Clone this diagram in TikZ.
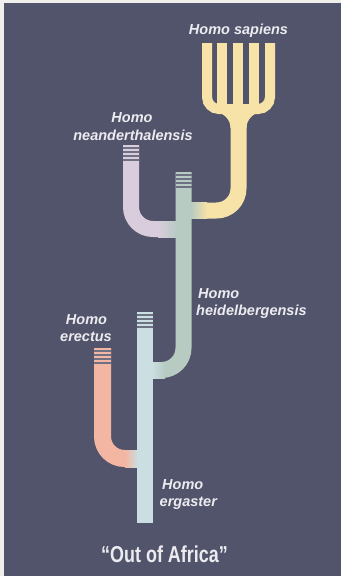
\documentclass[tikz,border=0pt]{standalone}
\usepackage{fontspec}
\setmainfont{Liberation Sans}
\definecolor{framec}{HTML}{F0EFEB}
\definecolor{bgc}{HTML}{52546C}
\definecolor{yel}{HTML}{F7E3A8}
\definecolor{lav}{HTML}{D9CCDD}
\definecolor{grn}{HTML}{B7CBC2}
\definecolor{blu}{HTML}{CBDFE2}
\definecolor{sal}{HTML}{F3B6A3}
\definecolor{labelc}{HTML}{ECECF0}
\definecolor{stripec}{HTML}{6E7084}
\begin{document}
\begin{tikzpicture}[x=1pt,y=-1pt,
  tube/.style={line width=16pt, line join=round},
  tine/.style={line width=10pt, draw=yel},
  stripe/.style={draw=stripec, line width=1.3pt},
  lbl/.style={text=labelc, font=\fontsize{14.5}{17}\selectfont\bfseries\itshape, inner sep=0pt},
  title/.style={text=labelc, font=\fontsize{23}{26}\selectfont\bfseries, inner sep=0pt}]
\useasboundingbox (0,0) rectangle (341,576);
\fill[framec] (0,0) rectangle (341,576);
\fill[bgc] (4,3) rectangle (341,576);
% Homo sapiens fork
\draw[tine, rounded corners=12pt] (207,43) -- (207,109) -- (270,109) -- (270,43);
\draw[tine] (222,43) -- (222,110);
\draw[tine] (238,43) -- (238,110);
\draw[tine] (254,43) -- (254,110);
\fill[yel] (214,112) to[out=0,in=90] (230.5,128) -- (246.5,128) to[out=90,in=180] (263,112) -- cycle;
\draw[tube, draw=yel, rounded corners=22pt] (238.5,106) -- (238.5,210.5) -- (183.5,210.5);
\shade[left color=grn, right color=yel] (191,202.5) rectangle (207,218.5);
% Homo neanderthalensis
\draw[tube, draw=lav, rounded corners=22pt] (131,145) -- (131,229) -- (183.5,229);
\shade[left color=lav, right color=grn] (158,221) rectangle (177,237);
% Homo heidelbergensis
\draw[tube, draw=grn, rounded corners=22pt] (183.5,172) -- (183.5,370) -- (145,370);
\shade[left color=blu, right color=grn] (152,362) rectangle (165,378);
% Homo erectus
\draw[tube, line width=17pt, draw=sal, rounded corners=22pt] (102.5,348) -- (102.5,458.5) -- (145,458.5);
\shade[left color=sal, right color=blu] (125,450) rectangle (138,467);
% Homo ergaster
\draw[tube, draw=blu] (145,312) -- (145,523);
% stripes
\foreach \d in {3,7,11,15} {
  \draw[stripe] (123,{145+\d}) -- (139,{145+\d});
  \draw[stripe] (175.5,{172+\d}) -- (191.5,{172+\d});
  \draw[stripe] (137,{312+\d}) -- (153,{312+\d});
  \draw[stripe] (94,{348+\d}) -- (111,{348+\d});
}
% labels
\node[lbl, anchor=base] (sap) at (238.5,34) {Homo sapiens};
\node[lbl, anchor=base] (neaA) at (132,122.5) {Homo};
\node[lbl, anchor=base] (neaB) at (133,140) {neanderthalensis};
\node[lbl, anchor=base west] (heiA) at (198,298.5) {Homo};
\node[lbl, anchor=base west] (heiB) at (196,315.5) {heidelbergensis};
\node[lbl, anchor=base] (ereA) at (86.5,324) {Homo};
\node[lbl, anchor=base] (ereB) at (86,341.5) {erectus};
\node[lbl, anchor=base west] (ergA) at (162,489.5) {Homo};
\node[lbl, anchor=base west] (ergB) at (159.5,506) {ergaster};
\node[title, anchor=base, xscale=0.78] (ooa) at (164.5,562.5) {“Out of Africa”};
\end{tikzpicture}
\end{document}
